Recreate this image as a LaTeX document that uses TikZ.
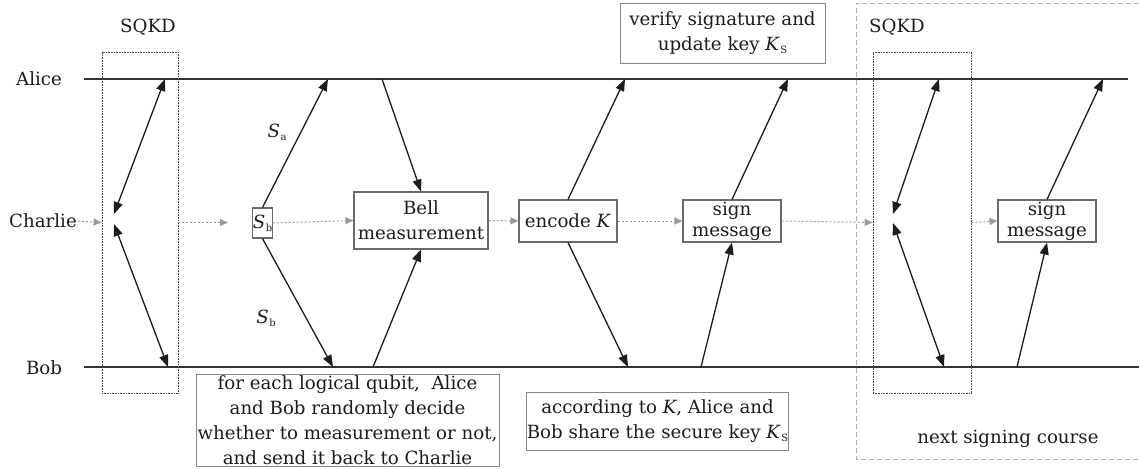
\documentclass[tikz,border=0pt]{standalone}
\usepackage{fontspec}
\setmainfont{DejaVu Serif}
\usetikzlibrary{arrows.meta}
\definecolor{ink}{HTML}{1C1C1C}
\definecolor{boxline}{HTML}{6A6A6A}
\definecolor{flow}{HTML}{9A9A9A}
% italic symbol with a small upright index
\newcommand{\idxsym}[2]{\textit{#1}\kern0.5pt\raisebox{-0.35ex}{\fontsize{10}{10}\selectfont #2}}
\begin{document}
\begin{tikzpicture}[x=1pt,y=-1pt,
  every node/.style={font=\fontsize{18.2}{25}\selectfont, text=ink},
  party/.style={inner sep=1pt},
  timeline/.style={draw=ink!90, line width=1.6pt},
  msg/.style={draw=ink, line width=1.3pt, -{Triangle[length=12pt,width=9pt]}},
  twoway/.style={draw=ink, line width=1.3pt, {Triangle[length=12pt,width=9pt]}-{Triangle[length=12pt,width=9pt]}},
  flowarrow/.style={draw=flow, line width=1pt, dash pattern=on 2pt off 2pt, -{Triangle[length=8pt,width=7pt]}},
  opbox/.style={draw=boxline, line width=1.1pt, inner sep=0pt, align=center},
  notebox/.style={draw=boxline!80, line width=0.9pt, inner sep=0pt, align=center},
  sqkdbox/.style={draw=ink!80, line width=0.8pt, dash pattern=on 1pt off 0.6pt, inner sep=0pt, minimum height=341pt}
]
\useasboundingbox (0,0) rectangle (1139,469);

% participants
\node[party] (alice) at (39,79) {Alice};
\node[party] (charlie) at (43,221) {Charlie};
\node[party] (bob) at (44,368) {Bob};

% time lines of Alice and Bob
\coordinate (aS) at (84,79);  \coordinate (aE) at (1128,79);
\coordinate (bS) at (84,367); \coordinate (bE) at (1139,367);
\draw[timeline] (aS) -- (aE);
\draw[timeline] (bS) -- (bE);

% next signing course frame
\draw[draw=flow!80, line width=0.9pt, dash pattern=on 5pt off 3pt]
  (1139,3) -- (856,3) -- (856,459) -- (1139,459);
\node (next) at (1008,439) {next signing course};

% SQKD phases
\node[sqkdbox, minimum width=76pt] (sqkd1) at (140,222.5) {};
\node[sqkdbox, minimum width=98pt] (sqkd2) at (922,222.5) {};
\node (sqkdlabel1) at (148,27) {SQKD};
\node (sqkdlabel2) at (897,27) {SQKD};

% operation boxes on Charlie's line
\node[opbox, minimum width=19pt, minimum height=30pt] (sb) at (262.5,223) {\idxsym{S}{b}};
\node[opbox, minimum width=134pt, minimum height=57pt] (bell) at (421,220.5) {Bell\\measurement};
\node[opbox, minimum width=98pt, minimum height=42pt] (encode) at (568,221) {encode \textit{K}};
\node[opbox, minimum width=98pt, minimum height=42pt] (sign1) at (732,221) {sign\\[-4pt]message};
\node[opbox, minimum width=98pt, minimum height=42pt] (sign2) at (1047,221) {sign\\[-4pt]message};

% explanatory notes
\node[notebox, minimum width=205pt, minimum height=60pt] (verify) at (722.5,33) {verify signature and\\update key \idxsym{K}{S}};
\node[notebox, minimum width=303pt, minimum height=92pt] (note1) at (347.5,420) {for each logical qubit,~ Alice\\and Bob randomly decide\\whether to measurement or not,\\and send it back to Charlie};
\node[notebox, minimum width=261pt, minimum height=58pt] (note2) at (657.5,421) {according to \textit{K}, Alice and\\Bob share the secure key \idxsym{K}{S}};

% contact points on the time lines
\coordinate (a1) at (165,79);  \coordinate (b1) at (168,367);
\coordinate (c1u) at (114,214); \coordinate (c1d) at (114,224);
\coordinate (a2) at (328,79);  \coordinate (b2) at (333,367);
\coordinate (a3) at (382,79);  \coordinate (b3) at (373,367);
\coordinate (a4) at (625,79);  \coordinate (b4) at (628,367);
\coordinate (a5) at (788,79);  \coordinate (b5) at (701,367);
\coordinate (a6) at (939,79);  \coordinate (b6) at (944,367);
\coordinate (c2u) at (893,214); \coordinate (c2d) at (893,223);
\coordinate (a7) at (1103,79); \coordinate (b7) at (1017,367);
\coordinate (gap) at (228,222.5);

% classical flow along Charlie's line
\draw[flowarrow] (charlie.east) -- (sqkd1.west);
\draw[flowarrow] (sqkd1.east) -- (gap);
\draw[flowarrow] (sb.east) -- (bell.west);
\draw[flowarrow] (bell.east) -- (encode.west);
\draw[flowarrow] (encode.east) -- (sign1.west);
\draw[flowarrow] (sign1.east) -- (sqkd2.west);
\draw[flowarrow] (sqkd2.east) -- (sign2.west);

% quantum key distribution exchanges
\draw[twoway] (a1) -- (c1u);
\draw[twoway] (c1d) -- (b1);
\draw[twoway] (a6) -- (c2u);
\draw[twoway] (c2d) -- (b6);

% protocol messages
\draw[msg] (sb.north) -- (a2);
\node (salabel) at (277,132) {\idxsym{S}{a}};
\draw[msg] (sb.south) -- (b2);
\node (sblabel) at (266,318) {\idxsym{S}{b}};
\draw[msg] (a3) -- (bell.north);
\draw[msg] (b3) -- (bell.south);
\draw[msg] (encode.north) -- (a4);
\draw[msg] (encode.south) -- (b4);
\draw[msg] (b5) -- (sign1.south);
\draw[msg] (sign1.north) -- (a5);
\draw[msg] (b7) -- (sign2.south);
\draw[msg] (sign2.north) -- (a7);
\end{tikzpicture}
\end{document}
